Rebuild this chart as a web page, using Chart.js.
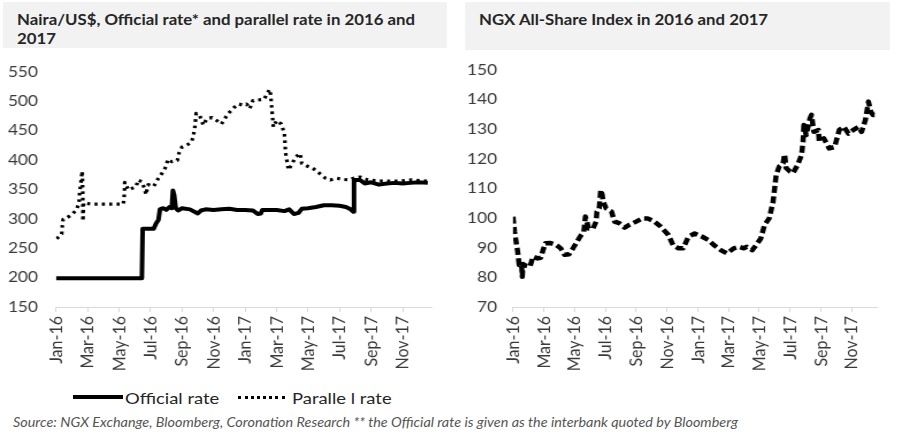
<!DOCTYPE html>
<html>
<head>
<meta charset="utf-8">
<script src="https://cdn.jsdelivr.net/npm/chart.js@4.4.1/dist/chart.umd.min.js"></script>
<style>
  body { margin: 0; background: #fff; font-family: Lato, sans-serif; }
  #page { position: relative; width: 900px; height: 447px; overflow: hidden; }
  .title { position: absolute; background: #f2f2f2; box-sizing: border-box; }
  .title div { position: absolute; left: 14px; top: 9px; white-space: nowrap; color: #262626;
               font-weight: bold; font-size: 14.6px; line-height: 18.5px;
               transform: scaleX(1.15); transform-origin: left top; }
  .wide { position: absolute; transform: scaleX(1.15); transform-origin: left top; }
  .chartbox { position: absolute; width: 391px; height: 330px; }
  .legtext { position: absolute; top: 388px; font-size: 16px; color: #262626; white-space: nowrap;
             transform: scaleX(1.15); transform-origin: left top; }
  #source { position: absolute; left: 13px; top: 415px; font-size: 12.5px; font-style: italic; color: #555;
            white-space: nowrap; transform: scaleX(1.15); transform-origin: left top; }
</style>
</head>
<body>
<div id="page">
  <div class="title" style="left:3px; top:2px; width:444px; height:46px;"><div>Naira/US$, Official rate* and parallel rate in 2016 and<br>2017</div></div>
  <div class="title" style="left:465px; top:2px; width:425px; height:48px;"><div>NGX All-Share Index in 2016 and 2017</div></div>
  <div class="wide" style="left:0px; top:47px;"><div class="chartbox"><canvas id="fxChart"></canvas></div></div>
  <div class="wide" style="left:450px; top:47px;"><div class="chartbox"><canvas id="ngxChart"></canvas></div></div>
  <div style="position:absolute; left:73px; top:395px; width:50px; border-top:4px solid #000;"></div>
  <div class="legtext" style="left:125px;">Official rate</div>
  <div style="position:absolute; left:238px; top:396px; width:47px; border-top:3px dotted #000;"></div>
  <div class="legtext" style="left:292px;">Paralle l rate</div>
  <div id="source">Source: NGX Exchange, Bloomberg, Coronation Research ** the Official rate is given as the interbank quoted by Bloomberg</div>
</div>
<script>
// x values are months since 1 Jan 2016
const tickMonths = [0, 2, 4, 6, 8, 10, 12, 14, 16, 18, 20, 22];
const tickLabels = ['Jan-16', 'Mar-16', 'May-16', 'Jul-16', 'Sep-16', 'Nov-16',
                    'Jan-17', 'Mar-17', 'May-17', 'Jul-17', 'Sep-17', 'Nov-17'];

// Official rate (N/US$)
const officialMonths = [0, 1, 2, 3, 4, 5, 5.45, 5.5, 6.2, 6.35, 6.5, 6.6, 6.8, 7.0, 7.2, 7.35, 7.42, 7.5, 7.6,
  7.75, 8.0, 8.5, 9.0, 9.2, 9.5, 10, 10.5, 11, 11.5, 12, 12.5, 12.8, 13.0, 13.1, 13.5, 14, 14.5, 14.8,
  15.1, 15.4, 15.6, 16, 16.5, 17, 17.5, 18, 18.4, 18.7, 18.88, 18.92, 19.3, 19.6, 20, 20.5, 21, 21.5,
  22, 22.5, 23, 23.6];
const officialRates = [199, 199, 199, 199, 199, 199, 199, 283, 283, 292, 298, 316, 318, 315, 320, 318, 348, 340, 318,
  314, 318, 316, 309, 314, 316, 315, 316, 317, 315, 315, 314, 308, 309, 315, 315, 315, 313, 316,
  308, 310, 317, 318, 320, 323, 323, 322, 320, 316, 312, 366, 366, 360, 362, 358, 360, 361,
  360, 361, 362, 361];

// Parallel rate (N/US$)
const parallelMonths = [0.04, 0.36, 0.4, 0.45, 0.6, 1.0, 1.3, 1.46, 1.5, 1.6, 1.66, 1.68, 1.69, 1.7, 1.71, 1.75,
  1.8, 2.2, 2.8, 3.5, 4.27, 4.32, 4.35, 4.36, 4.6, 5.1, 5.2, 5.45, 5.65, 5.7, 5.86, 6.2, 6.5, 6.8, 7.0,
  7.1, 7.35, 7.7, 7.8, 8.0, 8.3, 8.6, 8.7, 8.8, 8.9, 9.1, 9.35, 9.57, 9.9, 10.2, 10.5, 10.9, 11.3, 11.6,
  11.9, 12.1, 12.3, 12.5, 13.2, 13.4, 13.55, 13.62, 13.7, 13.8, 14.0, 14.3, 14.5, 14.55, 14.6, 14.7,
  14.75, 15.0, 15.2, 15.5, 15.6, 15.9, 16.3, 16.6, 17.1, 17.4, 17.8, 18.2, 18.6, 18.9, 19.3, 19.8,
  20.7, 21.7, 22.6, 23.6];
const parallelRates = [266, 274, 288, 299, 300, 307, 315, 327, 344, 366, 381, 365, 352, 338, 296, 327,
  327, 325, 325, 325, 325, 335, 349, 362, 349, 355, 366, 363, 349, 341, 358, 355, 369, 380, 390,
  401, 397, 399, 411, 422, 425, 430, 439, 453, 479, 477, 459, 470, 472, 467, 461, 478, 489, 495,
  493, 495, 487, 501, 503, 512, 520, 512, 487, 456, 467, 461, 445, 422, 405, 394,
  383, 394, 405, 411, 394, 390, 386, 380, 369, 366, 369, 367, 366, 369, 371, 366,
  364, 364, 366, 364];

// NGX All-Share Index (rebased)
const ngxMonths = [0, 0.1, 0.2, 0.3, 0.4, 0.55, 0.6, 0.65, 0.8, 1.1, 1.3, 1.6, 1.8, 1.95, 2.1, 2.4, 2.8, 3.1,
  3.35, 3.65, 3.9, 4.1, 4.35, 4.6, 4.7, 4.8, 4.9, 5.2, 5.4, 5.45, 5.6, 5.7, 5.8, 5.85, 6.05, 6.4, 6.6,
  6.9, 7.25, 7.55, 8.0, 8.4, 8.75, 9.2, 9.6, 10.1, 10.4, 10.75, 11.05, 11.4, 11.8, 12.3, 12.7, 13.05,
  13.5, 13.9, 14.35, 14.7, 15.0, 15.2, 15.55, 15.8, 16.1, 16.35, 16.65, 16.9, 17.0, 17.1, 17.3, 17.55,
  17.65, 17.75, 18.0, 18.2, 18.5, 18.75, 18.85, 18.9, 19.05, 19.3, 19.4, 19.55, 19.85, 19.9, 20.2,
  20.55, 20.9, 21.2, 21.5, 21.8, 22.1, 22.45, 22.65, 22.9, 23.1, 23.25, 23.4, 23.7];
const ngxValues = [100.5, 95.4, 92, 88.7, 84.2, 84.5, 80.2, 84.5, 84, 83.6, 87, 86.4, 86.6, 89.2, 91.5, 91.6, 91, 89.8,
  87.6, 87.8, 89.8, 91.5, 93.7, 95.4, 100.5, 98.8, 96.5, 96.5, 98.8, 102.2, 103.3, 109.5, 107.8, 105.6, 103.3, 102.2, 98.8,
  98.3, 96.8, 97.7, 98.8, 99.9, 99.9, 98.8, 97.1, 94.3, 90.9, 89.8, 89.8, 93.7, 94.8, 93.7, 92.6, 90.9,
  89.2, 88.1, 89.8, 90.3, 89.8, 90.3, 89.2, 90.9, 93.1, 97.7, 99.9, 105.5, 110, 114.6, 117.4, 118.5,
  121.5, 116.9, 115.7, 115.2, 118, 121.3, 125.8, 131.4, 128, 133.7, 134.8, 129.1, 129.7, 125.8, 126.9,
  123.5, 124, 129.7, 130.8, 128.5, 129.7, 130.8, 129.1, 133.1, 139.3, 135.9, 134.8, 134.8];

const toPoints = (xs, ys) => xs.map((x, i) => ({ x: x, y: ys[i] }));

function xAxis(maxMonth) {
    return {
        type: 'linear',
        min: 0,
        max: maxMonth,
        afterBuildTicks: function(scale) {
            scale.ticks = tickMonths.map(v => ({ value: v }));
        },
        afterFit: function(scale) { scale.height = 70; },
        ticks: {
            autoSkip: false,
            minRotation: 90,
            maxRotation: 90,
            padding: 4,
            color: '#3a3a3a',
            font: { family: 'Lato', size: 16 },
            callback: function(value, index) { return tickLabels[index]; }
        },
        grid: { drawOnChartArea: false, drawTicks: true, tickLength: 5, color: '#d9d9d9' },
        border: { display: true, color: '#d9d9d9' }
    };
}

function yAxis(min, max, step, width, pad) {
    return {
        min: min,
        max: max,
        afterBuildTicks: function(scale) {
            const t = [];
            for (let v = min; v <= max; v += step) t.push({ value: v });
            scale.ticks = t;
        },
        afterFit: function(scale) { scale.width = width; },
        ticks: {
            padding: pad,
            color: '#3a3a3a',
            font: { family: 'Lato', size: 15 }
        },
        grid: { display: false, drawTicks: false },
        border: { display: false }
    };
}

const baseOptions = {
    responsive: true,
    maintainAspectRatio: false,
    animation: false,
    plugins: { legend: { display: false }, tooltip: { enabled: false } },
    elements: { point: { radius: 0 }, line: { borderJoinStyle: 'round', tension: 0 } }
};

new Chart(document.getElementById('fxChart'), {
    type: 'line',
    data: {
        datasets: [
            {
                label: 'Official rate',
                data: toPoints(officialMonths, officialRates),
                borderColor: '#000',
                borderWidth: 4
            },
            {
                label: 'Paralle l rate',
                data: toPoints(parallelMonths, parallelRates),
                borderColor: '#000',
                borderWidth: 3.2,
                borderDash: [2.6, 3.8]
            }
        ]
    },
    options: Object.assign({}, baseOptions, {
        layout: { padding: { top: 0, right: 15.6, left: 0, bottom: 0 } },
        scales: {
            x: xAxis(23.85),
            y: yAxis(150, 550, 50, 48.7, 15.7)
        }
    })
});

new Chart(document.getElementById('ngxChart'), {
    type: 'line',
    data: {
        datasets: [
            {
                label: 'NGX All-Share Index',
                data: toPoints(ngxMonths, ngxValues),
                borderColor: '#000',
                borderWidth: 4.5,
                borderDash: [7, 3.5]
            }
        ]
    },
    options: Object.assign({}, baseOptions, {
        layout: { padding: { top: 1, right: 19.1, left: 0, bottom: 0 } },
        scales: {
            x: xAxis(23.7),
            y: yAxis(70, 150, 10, 54.8, 13.9)
        }
    })
});
</script>
</body>
</html>
